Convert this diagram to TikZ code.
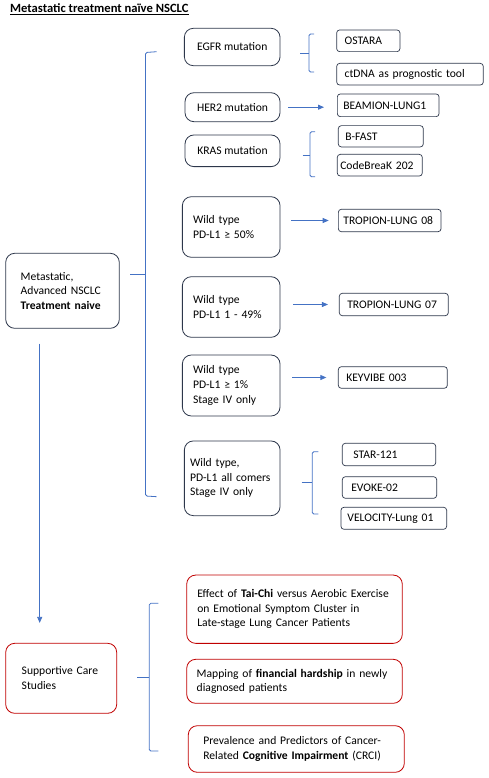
\documentclass[tikz,border=0pt]{standalone}
\usepackage{fontspec}
\setmainfont{Carlito}
\usetikzlibrary{arrows.meta}

\definecolor{officeblue}{RGB}{68,114,196}
\definecolor{boxline}{RGB}{45,55,75}
\definecolor{carered}{RGB}{192,0,0}

\tikzset{
    bigbox/.style={draw=boxline, line width=0.8pt, rounded corners=9pt, align=left, inner ysep=0pt},
    trialbox/.style={draw=boxline, line width=0.7pt, rounded corners=3pt, align=left, inner ysep=0pt},
    carebox/.style={bigbox, draw=carered},
    flow/.style={->, officeblue, line width=0.8pt},
    brace/.style={officeblue, line width=0.8pt, rounded corners=1.5pt},
}

\begin{document}
\begin{tikzpicture}[x=1pt, y=-1pt, >={Triangle[length=6pt, width=5pt]},
    font=\fontsize{11.6}{14.6}\selectfont]
        \useasboundingbox (0,0) rectangle (489,778);
        % --- 1. Title ---
        \node[anchor=base west, inner sep=0pt, font=\fontsize{12.6}{15}\selectfont] (title) at (10,13)
            {\textbf{\underline{Metastatic treatment naïve NSCLC}}};
        % --- 2. Left column ---
        \node[bigbox, text width=83.6pt, inner xsep=15pt, minimum height=75pt] (meta) at (62.5,290.8)
            {Metastatic,\\Advanced NSCLC\\\textbf{Treatment naive}};
        \node[carebox, text width=79pt, inner xsep=16pt, minimum height=70pt] (supp) at (61.2,678.3)
            {Supportive Care\\Studies};
        % --- 3. Subgroups ---
        \node[bigbox, align=center, minimum width=95.7pt, minimum height=37.4pt] (egfr) at (232.2,47) {EGFR mutation};
        \node[bigbox, align=center, minimum width=95pt, minimum height=29pt] (her2) at (232.5,107.2) {HER2 mutation};
        \node[bigbox, align=center, minimum width=95pt, minimum height=31.7pt] (kras) at (232.5,150.8) {KRAS mutation};
        \node[bigbox, text width=76.3pt, inner xsep=10.7pt, minimum height=60.6pt] (wt50) at (231.2,227)
            {Wild type\\PD-L1 ≥ 50\%};
        \node[bigbox, text width=76.3pt, inner xsep=10.7pt, minimum height=60.6pt] (wt149) at (231.2,307)
            {Wild type\\PD-L1 1 - 49\%};
        \node[bigbox, text width=76.3pt, inner xsep=10.7pt, minimum height=61pt] (wt1) at (231.2,385.5)
            {Wild type\\PD-L1 ≥ 1\%\\Stage IV only};
        \node[bigbox, text width=84.3pt, inner xsep=5.7pt, minimum height=74.7pt] (wtall) at (232.2,478.3)
            {Wild type,\\PD-L1 all comers\\Stage IV only};
        % --- 4. Trials ---
        \node[trialbox, text width=47.3pt, inner xsep=8pt, minimum height=21.7pt] (ostara) at (368.3,40.8) {OSTARA};
        \node[trialbox, text width=130.6pt, inner xsep=8pt, minimum height=21.7pt] (ctdna) at (410,74.2) {ctDNA as prognostic tool};
        \node[trialbox, text width=89.7pt, inner xsep=6pt, minimum height=22.7pt] (beamion) at (388.2,105.3) {BEAMION-LUNG1};
        \node[trialbox, text width=71pt, inner xsep=7pt, minimum height=21.3pt] (bfast) at (380.8,136.3) {B-FAST};
        \node[trialbox, text width=79pt, inner xsep=3pt, minimum height=21.7pt] (codebreak) at (379.8,165.2) {\mbox{CodeBreaK 202}};
        \node[trialbox, text width=92.7pt, inner xsep=5pt, minimum height=22.4pt] (tl08) at (389.7,220.5) {TROPION-LUNG 08};
        \node[trialbox, text width=93pt, inner xsep=8pt, minimum height=22.4pt] (tl07) at (393.8,304.5) {TROPION-LUNG 07};
        \node[trialbox, text width=93pt, inner xsep=8pt, minimum height=21.6pt] (keyvibe) at (392.8,377.5) {KEYVIBE 003};
        \node[trialbox, text width=71.4pt, inner xsep=11pt, minimum height=22.4pt] (star) at (389,454.5) {STAR-121};
        \node[trialbox, text width=76.4pt, inner xsep=9pt, minimum height=21.6pt] (evoke) at (389.5,487.5) {EVOKE-02};
        \node[trialbox, text width=92.7pt, inner xsep=6.5pt, minimum height=22pt] (velocity) at (393.8,518.3) {VELOCITY-Lung 01};
        % --- 5. Supportive care studies ---
        \node[carebox, text width=194.4pt, inner xsep=10.6pt, minimum height=68.3pt] (taichi) at (294.5,609.2)
            {Effect of \textbf{Tai-Chi} versus Aerobic Exercise\\on Emotional Symptom Cluster in\\Late-stage Lung Cancer Patients};
        \node[carebox, text width=195.6pt, inner xsep=10pt, minimum height=44pt] (fin) at (294.5,681.3)
            {Mapping of \textbf{financial hardship} in newly\\diagnosed patients};
        \node[carebox, text width=186pt, inner xsep=15pt, minimum height=46.6pt] (crci) at (296.3,749)
            {Prevalence and Predictors of Cancer-\\Related \textbf{Cognitive Impairment} (CRCI)};
        % --- 6. Arrows ---
        \draw[flow, shorten <=8pt, shorten >=13pt] (her2.east) -- (her2.east -| beamion.west);
        \draw[flow, shorten <=10.7pt, shorten >=9.3pt] (wt50.east |- tl08.west) -- (tl08.west);
        \draw[flow, shorten <=12.7pt, shorten >=11pt] (wt149.east |- tl07.west) -- (tl07.west);
        \draw[flow, shorten <=11.7pt, shorten >=11.6pt] (wt1.east |- keyvibe.west) -- (keyvibe.west);
        \draw[flow, shorten <=15pt, shorten >=20pt] ([xshift=-22.8pt]meta.south) -- ([xshift=-22.8pt]meta.south |- supp.north);
        % --- 7. Brackets ---
        \draw[brace] (156.7,51.7) -- (145.5,52.5) -- (145.5,496) -- (156.7,496.7);
        \draw[brace] (130,274.3) -- (145.5,274.3);
        \draw[brace] (314,34) -- (309,34) -- (309,72) -- (314,72);
        \draw[brace] (300,53.3) -- (309,53.3);
        \draw[brace] (315,131.7) -- (310,131.7) -- (310,176.7) -- (315,176.7);
        \draw[brace] (302.7,155) -- (310,155);
        \draw[brace] (318.3,451.7) -- (312.3,451.7) -- (312.3,514) -- (318.3,514);
        \draw[brace] (301.7,482.7) -- (312.3,482.7);
        \draw[brace] (158.3,603.3) -- (149.3,603.3) -- (149.3,751) -- (158.3,751);
        \draw[brace] (137.3,677.3) -- (149.3,677.3);
\end{tikzpicture}
\end{document}
